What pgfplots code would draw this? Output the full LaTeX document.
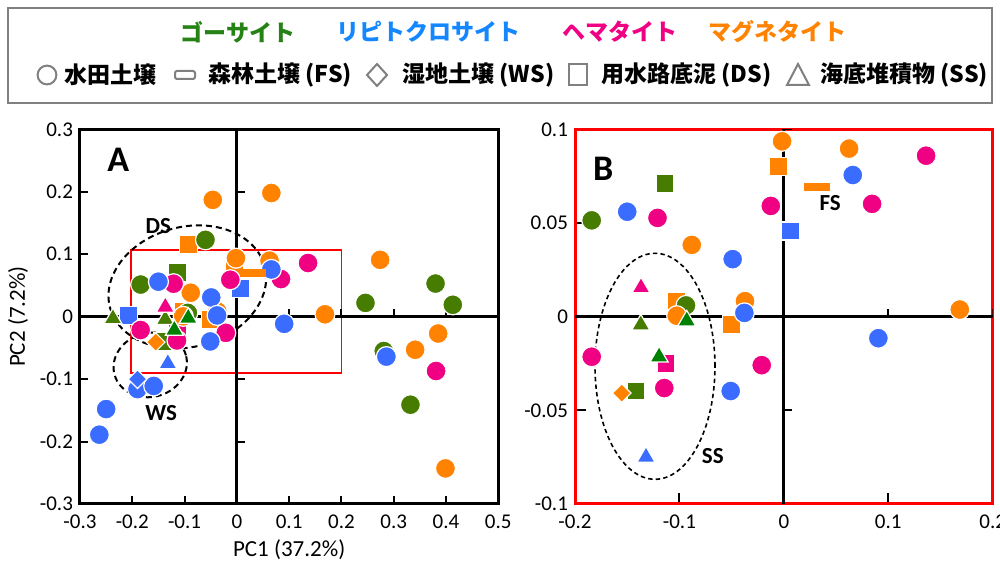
\documentclass[border=0pt]{standalone}
\usepackage{pgfplots}
\pgfplotsset{compat=1.18}
\usepackage{fontspec}
\setmainfont{Carlito}
\newfontfamily\jp{Noto Sans CJK JP}

\definecolor{goe}{RGB}{70,125,0}
\definecolor{goedark}{RGB}{0,128,0}
\definecolor{goetext}{RGB}{38,130,20}
\definecolor{lep}{RGB}{58,108,255}
\definecolor{leptext}{RGB}{20,135,255}
\definecolor{hem}{RGB}{240,0,130}
\definecolor{mag}{RGB}{255,130,0}
\definecolor{legframe}{RGB}{128,128,128}

% flat bar for forest soil samples
\pgfdeclareplotmark{fsbar}{%
  \pgfsetcornersarced{\pgfpoint{1pt}{1pt}}%
  \pgfpathrectangle{\pgfqpoint{-6.5pt}{-2pt}}{\pgfqpoint{13pt}{4pt}}%
  \pgfusepathqfill}

\pgfplotsset{
  sq/.style={only marks, mark=square*, mark size=4.5pt,
    mark options={fill=#1, draw=white, line width=0.6pt}},
  ci/.style={only marks, mark=*, mark size=5pt,
    mark options={fill=#1, draw=white, line width=0.6pt}},
  tr/.style={only marks, mark=triangle*, mark size=5.2pt,
    mark options={fill=#1, draw=white, line width=0.6pt}},
  di/.style={only marks, mark=square*, mark size=3.3pt,
    mark options={fill=#1, draw=white, line width=0.6pt, rotate=45}},
  fs/.style={only marks, mark=fsbar, mark options={fill=#1}},
}

% PCA scores: goethite (goe), lepidocrocite (lep), hematite (hem), magnetite (mag)
\newcommand\scores{%
  % canal sediments (DS)
  \addplot[sq=goe] coordinates {(-0.1138,0.0710) (-0.1416,-0.0397)};
  \addplot[sq=lep] coordinates {(0.0062,0.0457) (-0.208,0.002)};
  \addplot[sq=hem] coordinates {(-0.1128,-0.0250)};
  \addplot[sq=mag] coordinates {(-0.1026,0.0083) (-0.0499,-0.0043) (-0.0049,0.0800) (-0.093,0.116)};
  % paddy soils
  \addplot[ci=goe] coordinates {(-0.184,0.0514) (-0.0937,0.0060) (-0.060,0.123) (0.246,0.022)
    (0.380,0.053) (0.413,0.019) (0.281,-0.055) (0.332,-0.141)};
  \addplot[ci=mag] coordinates {(-0.0882,0.0383) (-0.1026,0.0005) (-0.0372,0.0083) (-0.0017,0.0936)
    (0.0625,0.0897) (0.1685,0.0038) (-0.046,0.187) (0.066,0.198) (0.274,0.091)
    (0.385,-0.027) (0.341,-0.053) (0.399,-0.243)};
  \addplot[ci=hem] coordinates {(-0.121,0.0527) (-0.184,-0.0214) (-0.0212,-0.0259) (-0.1145,-0.0381)
    (0.1362,0.0859) (-0.0125,0.0591) (0.0845,0.0602) (0.381,-0.087)};
  \addplot[ci=lep] coordinates {(-0.150,0.056) (-0.049,0.0307) (-0.0378,0.002) (-0.0509,-0.0397)
    (0.066,0.0756) (0.0905,-0.0115) (0.286,-0.064) (-0.250,-0.148) (-0.263,-0.189)
    (-0.190,-0.116) (-0.159,-0.111)};
  % forest soil (FS)
  \addplot[fs=mag] coordinates {(0.0315,0.0692)};
  % sea sediments (SS)
  \addplot[tr=goe] coordinates {(-0.137,-0.0043) (-0.237,-0.003)};
  \addplot[tr=goedark] coordinates {(-0.093,-0.0022) (-0.1195,-0.0214)};
  \addplot[tr=hem] coordinates {(-0.1368,0.0155)};
  \addplot[tr=lep] coordinates {(-0.132,-0.0749)};
  % wetland soils (WS)
  \addplot[di=mag] coordinates {(-0.1553,-0.0408)};
  \addplot[di=lep] coordinates {(-0.190,-0.100)};
}

\begin{document}
\begin{tikzpicture}
\path[use as bounding box] (0,0) rectangle (500pt,283.5pt);

% legend
\draw[legframe, line width=1pt] (4pt,232pt) rectangle (496pt,279.5pt);
\begin{scope}[every node/.style={font={\jp\bfseries\fontsize{11.5}{14}\selectfont}, inner sep=0pt}]
  \node[text=goetext] at (119pt,267.5pt) {ゴーサイト};
  \node[text=leptext] at (214.25pt,267.5pt) {リピトクロサイト};
  \node[text=hem] at (310pt,267.5pt) {ヘマタイト};
  \node[text=mag] at (388.75pt,267.5pt) {マグネタイト};
  \node[anchor=west] at (32pt,246pt) {水田土壌};
  \node[anchor=west] at (104pt,246pt) {森林土壌 (FS)};
  \node[anchor=west] at (201pt,246pt) {湿地土壌 (WS)};
  \node[anchor=west] at (300.5pt,246pt) {用水路底泥 (DS)};
  \node[anchor=west] at (410pt,246pt) {海底堆積物 (SS)};
\end{scope}
\begin{scope}[legframe, line width=1pt, fill=white]
  \draw (23.5pt,246pt) circle (4.7pt);
  \draw[rounded corners=1pt] (87.5pt,244pt) rectangle (97.5pt,248pt);
  \draw (188.5pt,251.5pt) -- (193.5pt,246pt) -- (188.5pt,240.5pt) -- (183.5pt,246pt) -- cycle;
  \draw (284.5pt,240.75pt) rectangle (293.5pt,251.25pt);
  \draw (399pt,251.5pt) -- (404.5pt,241pt) -- (393.5pt,241pt) -- cycle;
\end{scope}

% panel A
\begin{axis}[
  at={(40pt,31.5pt)}, anchor=south west,
  width=209.15pt, height=187.35pt, scale only axis,
  xmin=-0.3, xmax=0.5, ymin=-0.3, ymax=0.3,
  xtick={-0.3,-0.2,-0.1,0,0.1,0.2,0.3,0.4,0.5},
  xticklabels={-0.3,-0.2,-0.1,0,0.1,0.2,0.3,0.4,0.5},
  ytick={-0.3,-0.2,-0.1,0,0.1,0.2,0.3},
  yticklabels={-0.3,-0.2,-0.1,0,0.1,0.2,0.3},
  xtick pos=lower, ytick pos=left,
  tick align=inside, major tick length=4pt,
  tick style={black, line width=1pt},
  axis line style={black, line width=1.5pt},
  ticklabel style={font=\fontsize{10.5}{12}\selectfont},
  xticklabel style={yshift=-2pt},
  xlabel={PC1 (37.2\%)}, ylabel={PC2 (7.2\%)},
  label style={font=\fontsize{11.5}{13}\selectfont},
  xlabel style={at={(axis description cs:0.5,-0.123)}, anchor=center},
  ylabel style={at={(axis description cs:-0.148,0.5)}, anchor=center},
]
  \draw[red, line width=0.8pt] (axis cs:-0.202,-0.090) rectangle (axis cs:0.200,0.107);
  \draw[black, line width=1.5pt] (axis cs:-0.3,0) -- (axis cs:0.5,0);
  \draw[black, line width=1.5pt] (axis cs:0,-0.3) -- (axis cs:0,0.3);
  \pgfplotsinvokeforeach{-0.2,-0.1,0.1,0.2,0.3,0.4}{\draw[black, line width=1pt] (axis cs:#1,0) -- ++(0pt,4pt);}
  \pgfplotsinvokeforeach{-0.2,-0.1,0.1,0.2}{\draw[black, line width=1pt] (axis cs:0,#1) -- ++(4pt,0pt);}
  \scores
  \draw[black, dashed, dash pattern=on 3pt off 2pt, line width=1pt, rotate around={15:(axis cs:-0.0948,0.0476)}]
    (axis cs:-0.0948,0.0476) ellipse [x radius=40pt, y radius=30pt];
  \draw[black, dashed, dash pattern=on 3pt off 2pt, line width=1pt, rotate around={15:(axis cs:-0.1657,-0.0773)}]
    (axis cs:-0.1657,-0.0773) ellipse [x radius=18.5pt, y radius=16pt];
  \node[font=\bfseries\fontsize{18}{20}\selectfont] at (axis cs:-0.227,0.251) {A};
  \node[font=\bfseries\fontsize{11.5}{13}\selectfont] at (axis cs:-0.150,0.145) {DS};
  \node[font=\bfseries\fontsize{11.5}{13}\selectfont] at (axis cs:-0.1446,-0.154) {WS};
\end{axis}

% panel B: close-up of the red box
\begin{axis}[
  at={(287.5pt,31.5pt)}, anchor=south west,
  width=208.85pt, height=187.35pt, scale only axis,
  xmin=-0.2, xmax=0.2, ymin=-0.1, ymax=0.1,
  restrict x to domain=-0.2:0.2, restrict y to domain=-0.095:0.1,
  xtick={-0.2,-0.1,0,0.1,0.2},
  xticklabels={-0.2,-0.1,0,0.1,0.2},
  ytick={-0.1,-0.05,0,0.05,0.1},
  yticklabels={-0.1,-0.05,0,0.05,0.1},
  xtick pos=lower, ytick pos=left,
  tick align=inside, major tick length=5.5pt,
  tick style={black, line width=1pt},
  axis line style={red, line width=1.5pt},
  ticklabel style={font=\fontsize{10.5}{12}\selectfont},
  xticklabel style={yshift=-2pt},
]
  \draw[black, line width=1.5pt] (axis cs:-0.2,0) -- (axis cs:0.2,0);
  \draw[black, line width=1.5pt] (axis cs:0,-0.1) -- (axis cs:0,0.1);
  \pgfplotsinvokeforeach{-0.1,0.1,0.2}{\draw[black, line width=1pt] (axis cs:#1,0) -- ++(0pt,4pt);}
  \pgfplotsinvokeforeach{-0.05,0.05,0.1}{\draw[black, line width=1pt] (axis cs:0,#1) -- ++(4pt,0pt);}
  \scores
  \draw[black, dashed, dash pattern=on 2.2pt off 1.6pt, line width=0.8pt]
    (axis cs:-0.1234,-0.0265) ellipse [x radius=30pt, y radius=56.5pt];
  \node[font=\bfseries\fontsize{18}{20}\selectfont] at (axis cs:-0.173,0.079) {B};
  \node[font=\bfseries\fontsize{11.5}{13}\selectfont] at (axis cs:0.0443,0.0604) {FS};
  \node[font=\bfseries\fontsize{11.5}{13}\selectfont] at (axis cs:-0.068,-0.0745) {SS};
\end{axis}
\end{tikzpicture}
\end{document}
